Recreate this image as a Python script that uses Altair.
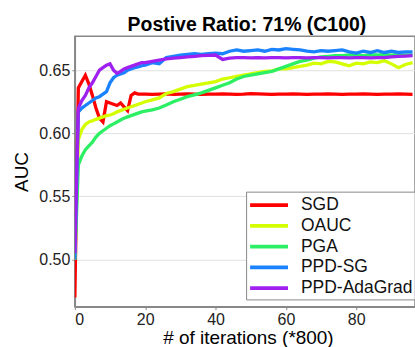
import altair as alt
import pandas as pd

# shared x positions (# of iterations, *800)
iters = list(range(0, 21)) + list(range(22, 97, 2))

sgd = [0.470, 0.636, 0.641, 0.646, 0.639, 0.630, 0.620, 0.612, 0.609, 0.625,
       0.624, 0.623, 0.622, 0.624, 0.621, 0.618, 0.630, 0.632, 0.631, 0.631,
       0.631,
       0.6308, 0.631, 0.6312, 0.6308, 0.631, 0.6312, 0.631, 0.6308, 0.631,
       0.631, 0.6312, 0.631, 0.6308, 0.631, 0.6315, 0.6312, 0.631, 0.6308,
       0.631, 0.631, 0.6312, 0.631, 0.6308, 0.631, 0.631, 0.6312, 0.631,
       0.6308, 0.631, 0.631, 0.6312, 0.631, 0.6308, 0.631, 0.631, 0.6312,
       0.631, 0.6308]

oauc = [0.500, 0.595, 0.603, 0.607, 0.609, 0.610, 0.611, 0.612, 0.613, 0.614,
        0.6145, 0.6155, 0.617, 0.618, 0.619, 0.620, 0.621, 0.622, 0.623, 0.624,
        0.625,
        0.6265, 0.628, 0.6315, 0.633, 0.635, 0.637, 0.638, 0.639, 0.640,
        0.641, 0.643, 0.644, 0.645, 0.646, 0.647, 0.648, 0.649, 0.6495,
        0.651, 0.651, 0.652, 0.653, 0.654, 0.6555, 0.655, 0.657, 0.6565,
        0.655, 0.6535, 0.6555, 0.655, 0.6565, 0.656, 0.6575, 0.655, 0.652,
        0.6545, 0.656]

pga = [0.500, 0.575, 0.582, 0.587, 0.590, 0.593, 0.597, 0.600, 0.602, 0.604,
       0.606, 0.6075, 0.609, 0.6105, 0.612, 0.613, 0.614, 0.615, 0.616, 0.617,
       0.6175,
       0.6185, 0.620, 0.6225, 0.625, 0.627, 0.629, 0.6305, 0.632, 0.634,
       0.636, 0.638, 0.640, 0.643, 0.645, 0.646, 0.647, 0.648, 0.649,
       0.651, 0.653, 0.655, 0.657, 0.658, 0.6595, 0.6605, 0.661, 0.6615,
       0.6615, 0.662, 0.662, 0.6615, 0.662, 0.662, 0.6625, 0.662, 0.6625,
       0.662, 0.662]

ppd_sg = [0.500, 0.617, 0.620, 0.622, 0.624, 0.626, 0.628, 0.629, 0.631, 0.633,
          0.640, 0.644, 0.646, 0.647, 0.648, 0.650, 0.651, 0.652, 0.6525, 0.6535,
          0.654,
          0.656, 0.655, 0.660, 0.661, 0.662, 0.6625, 0.663, 0.6625, 0.663,
          0.6635, 0.663, 0.665, 0.666, 0.665, 0.6655, 0.666, 0.665, 0.6665,
          0.666, 0.667, 0.6665, 0.666, 0.665, 0.6645, 0.6655, 0.665, 0.6655,
          0.666, 0.6645, 0.6635, 0.665, 0.664, 0.6655, 0.664, 0.665, 0.664,
          0.6645, 0.6645]

ppd_adagrad = [0.505, 0.620, 0.626, 0.630, 0.636, 0.640, 0.645, 0.650, 0.652, 0.654,
               0.655, 0.650, 0.6475, 0.649, 0.651, 0.652, 0.653, 0.654, 0.655, 0.656,
               0.656,
               0.657, 0.658, 0.659, 0.6595, 0.660, 0.6605, 0.661, 0.6615, 0.6618,
               0.662, 0.6585, 0.6595, 0.660, 0.660, 0.6598, 0.660, 0.6598, 0.660,
               0.660, 0.6598, 0.660, 0.660, 0.6598, 0.660, 0.660, 0.6598, 0.660,
               0.660, 0.6598, 0.660, 0.660, 0.6598, 0.660, 0.660, 0.6605, 0.661,
               0.6612, 0.6615]

series_names = ["SGD", "OAUC", "PGA", "PPD-SG", "PPD-AdaGrad"]
series_colors = ["#ff0000", "#d4ff00", "#2cef64", "#1a82ff", "#a020f0"]
series_values = [sgd, oauc, pga, ppd_sg, ppd_adagrad]

rows = []
for order, (name, vals) in enumerate(zip(series_names, series_values)):
    for x, v in zip(iters, vals):
        rows.append({"iter": x, "auc": v, "method": name, "order": order})
df = pd.DataFrame(rows)

FONT = "Liberation Sans"

chart = alt.Chart(df).mark_line(strokeWidth=3.3, clip=True).encode(
    x=alt.X("iter:Q",
            scale=alt.Scale(domain=[0, 96.7], nice=False, zero=False),
            axis=alt.Axis(values=[0, 20, 40, 60, 80], title="# of iterations (*800)",
                          grid=False, titleX=173.5, titleY=31,
                          titleBaseline="middle", titleAlign="center")),
    y=alt.Y("auc:Q",
            scale=alt.Scale(domain=[0.4627, 0.6768], nice=False, zero=False),
            axis=alt.Axis(values=[0.50, 0.55, 0.60, 0.65], format=".2f", title="AUC",
                          titleX=-53, titleY=135.5, titleAngle=270,
                          titleBaseline="middle", titleAlign="center")),
    color=alt.Color("method:N",
                    scale=alt.Scale(domain=series_names, range=series_colors),
                    sort=series_names,
                    legend=alt.Legend(title=None, orient="none",
                                      legendX=171.7, legendY=155.7,
                                      symbolType="M-1,0L3,0", symbolSize=361,
                                      symbolStrokeWidth=4,
                                      labelFontSize=17.5, labelFont=FONT,
                                      labelColor="#111111",
                                      labelOffset=30, rowPadding=0.8,
                                      padding=2, strokeColor="#888888",
                                      fillColor="white", cornerRadius=0)),
    order=alt.Order("order:Q"),
    detail="method:N",
).properties(
    width=341,
    height=271,
    background="white",
    title=alt.TitleParams("Postive Ratio: 71% (C100)", fontSize=19.5, font=FONT,
                          fontWeight="bold", anchor="middle", baseline="alphabetic",
                          offset=6, dx=2, dy=20, color="#000000"),
    autosize=alt.AutoSizeParams(type="none"),
    padding={"left": 75, "top": 36, "right": 0, "bottom": 40},
).configure_view(
    stroke="#888888", strokeWidth=1.5
).configure_axis(
    labelFont=FONT, titleFont=FONT, labelFontSize=16, titleFontSize=19,
    titleFontWeight="normal", labelColor="#222222", titleColor="#000000",
    domainColor="#888888", domainWidth=1.5, tickColor="#888888", tickSize=3,
    labelPadding=2, gridColor="#e0e0e0", gridWidth=1
)

chart.save("out.html", embed_options={"renderer": "svg", "actions": False})
